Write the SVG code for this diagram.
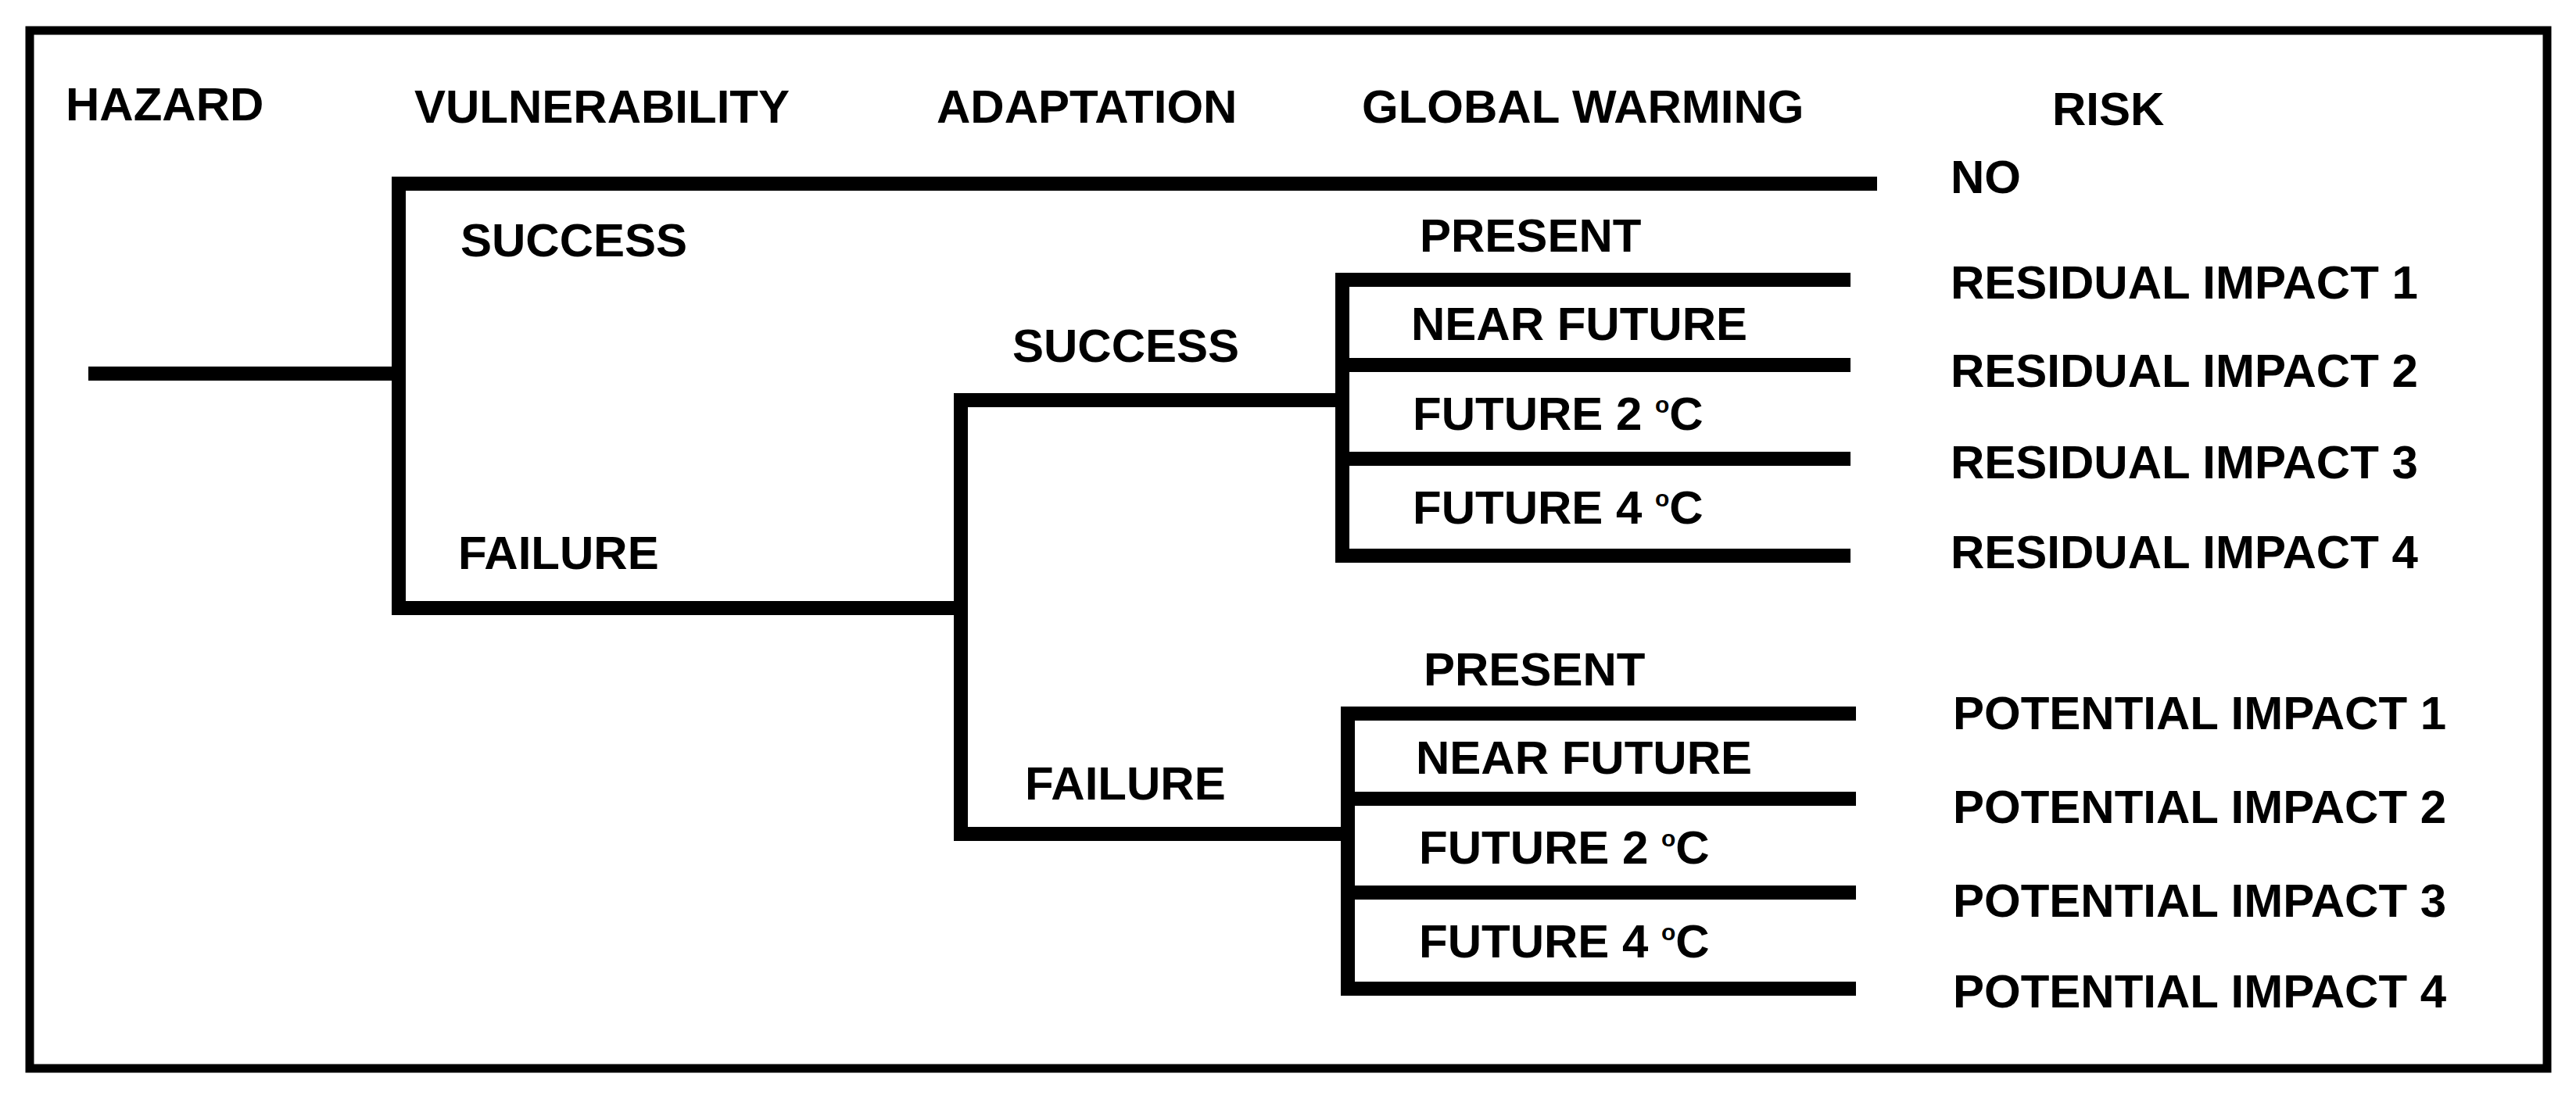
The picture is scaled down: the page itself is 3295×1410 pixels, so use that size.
<svg xmlns="http://www.w3.org/2000/svg" width="3295" height="1410" viewBox="0 0 3295 1410">
<style>
.t{font-family:"Liberation Sans",Arial,sans-serif;font-weight:bold;font-size:60px;fill:#000}
.sup{font-size:30px}
.ln{stroke:#000;stroke-width:18;fill:none;stroke-linecap:butt;stroke-linejoin:miter}
.frame{stroke:#000;stroke-width:11;fill:none}
</style>
<rect width="3295" height="1410" fill="#fff"/>
<rect id="frame" class="frame" x="38" y="39" width="3220" height="1328"/>
<g id="headers">
<text class="t" x="84" y="154">HAZARD</text>
<text class="t" x="530" y="157">VULNERABILITY</text>
<text class="t" x="1198" y="157">ADAPTATION</text>
<text class="t" x="1742" y="157">GLOBAL WARMING</text>
<text class="t" x="2625" y="160">RISK</text>
</g>
<g id="connectors">
<path class="ln" d="M113 478 H510" stroke-linecap="round"/>
<path class="ln" d="M510 478 H519" />
<path class="ln" d="M2401 235 H510 V778 H1229"/>
<path class="ln" d="M1229 503 V1076"/>
<path class="ln" d="M1229 512 H1717"/>
<path class="ln" d="M1229 1067 H1724"/>
<path class="ln" d="M2367 358 H1717 V711 H2367"/>
<path class="ln" d="M1717 467 H2367"/>
<path class="ln" d="M1717 587 H2367"/>
<path class="ln" d="M2374 913 H1724 V1265 H2374"/>
<path class="ln" d="M1724 1022 H2374"/>
<path class="ln" d="M1724 1142 H2374"/>
</g>
<g id="vulnerability">
<text class="t" x="589" y="328">SUCCESS</text>
<text class="t" x="586" y="728">FAILURE</text>
</g>
<g id="no-risk"><text class="t" x="2495" y="247">NO</text></g>
<g id="adaptation-success">
<text class="t" x="1295" y="463">SUCCESS</text>
<text class="t" x="1816" y="322">PRESENT</text>
<text class="t" x="1805" y="435">NEAR FUTURE</text>
<text class="t" x="1807" y="550">FUTURE 2 <tspan class="sup" dy="-22">o</tspan><tspan dy="22">C</tspan></text>
<text class="t" x="1807" y="670">FUTURE 4 <tspan class="sup" dy="-22">o</tspan><tspan dy="22">C</tspan></text>
</g>
<g id="residual">
<text class="t" x="2495" y="382">RESIDUAL IMPACT 1</text>
<text class="t" x="2495" y="495">RESIDUAL IMPACT 2</text>
<text class="t" x="2495" y="612">RESIDUAL IMPACT 3</text>
<text class="t" x="2495" y="727">RESIDUAL IMPACT 4</text>
</g>
<g id="adaptation-failure">
<text class="t" x="1311" y="1023">FAILURE</text>
<text class="t" x="1821" y="877">PRESENT</text>
<text class="t" x="1811" y="990">NEAR FUTURE</text>
<text class="t" x="1815" y="1105">FUTURE 2 <tspan class="sup" dy="-22">o</tspan><tspan dy="22">C</tspan></text>
<text class="t" x="1815" y="1225">FUTURE 4 <tspan class="sup" dy="-22">o</tspan><tspan dy="22">C</tspan></text>
</g>
<g id="potential">
<text class="t" x="2498" y="933">POTENTIAL IMPACT 1</text>
<text class="t" x="2498" y="1053">POTENTIAL IMPACT 2</text>
<text class="t" x="2498" y="1173">POTENTIAL IMPACT 3</text>
<text class="t" x="2498" y="1289">POTENTIAL IMPACT 4</text>
</g>
</svg>
